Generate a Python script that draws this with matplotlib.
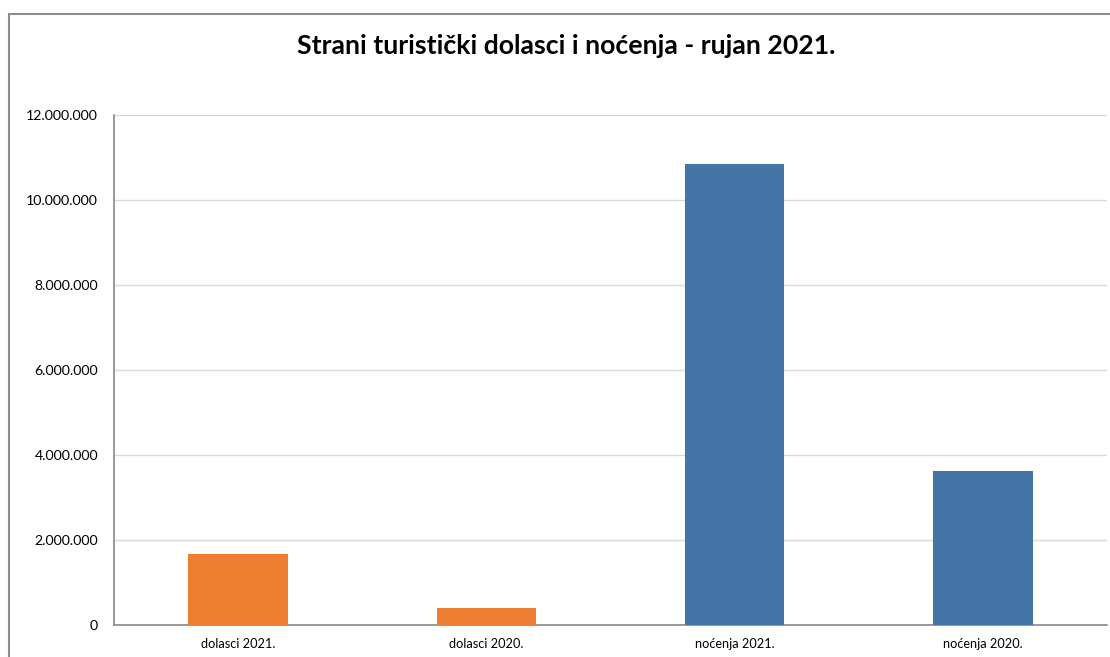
import matplotlib
matplotlib.use('Agg')
import matplotlib.pyplot as plt
from matplotlib.ticker import FuncFormatter
from matplotlib.lines import Line2D

categories = ['dolasci 2021.', 'dolasci 2020.', 'noćenja 2021.', 'noćenja 2020.']
values = [1670000, 390000, 10850000, 3620000]
bar_colors = ['#ED7D31', '#ED7D31', '#4574A7', '#4574A7']
title = 'Strani turistički dolasci i noćenja - rujan 2021.'

plt.rcParams['font.family'] = ['Lato', 'DejaVu Sans']

fig = plt.figure(figsize=(11.1, 6.57), dpi=100)
ax = fig.add_axes([114/1110, 32/657, (1107-114)/1110, (625-115)/657])

x = range(len(categories))
ax.bar(x, values, width=0.4, color=bar_colors, zorder=3)

ax.set_xlim(-0.5, 3.5)
ax.set_ylim(0, 12000000)
ax.set_yticks(range(0, 12000001, 2000000))
ax.yaxis.set_major_formatter(FuncFormatter(lambda v, p: f'{int(v):,}'.replace(',', '.')))
ax.set_xticks(list(x))
ax.set_xticklabels(categories)
ax.tick_params(axis='both', length=0, colors='#000000')
ax.tick_params(axis='y', pad=11.5, labelsize=10.2)
ax.tick_params(axis='x', pad=9, labelsize=9.2)

ax.grid(axis='y', color='#D9D9D9', linewidth=1, zorder=0)
for s in ['top', 'right']:
    ax.spines[s].set_visible(False)
for s in ['left', 'bottom']:
    ax.spines[s].set_color('#898989')
    ax.spines[s].set_linewidth(1.2)

fig.text(566/1110, 1 - 46/657, title, ha='center', va='center',
         fontsize=19.2, fontweight='bold')

# outer chart frame
fx = 9/1110
fy = 1 - 14/657
fig.add_artist(Line2D([fx, fx], [0, fy], transform=fig.transFigure, color='#8C8C8C', linewidth=1.5))
fig.add_artist(Line2D([fx, 1], [fy, fy], transform=fig.transFigure, color='#8C8C8C', linewidth=1.5))

fig.savefig('out.png', dpi=100)
